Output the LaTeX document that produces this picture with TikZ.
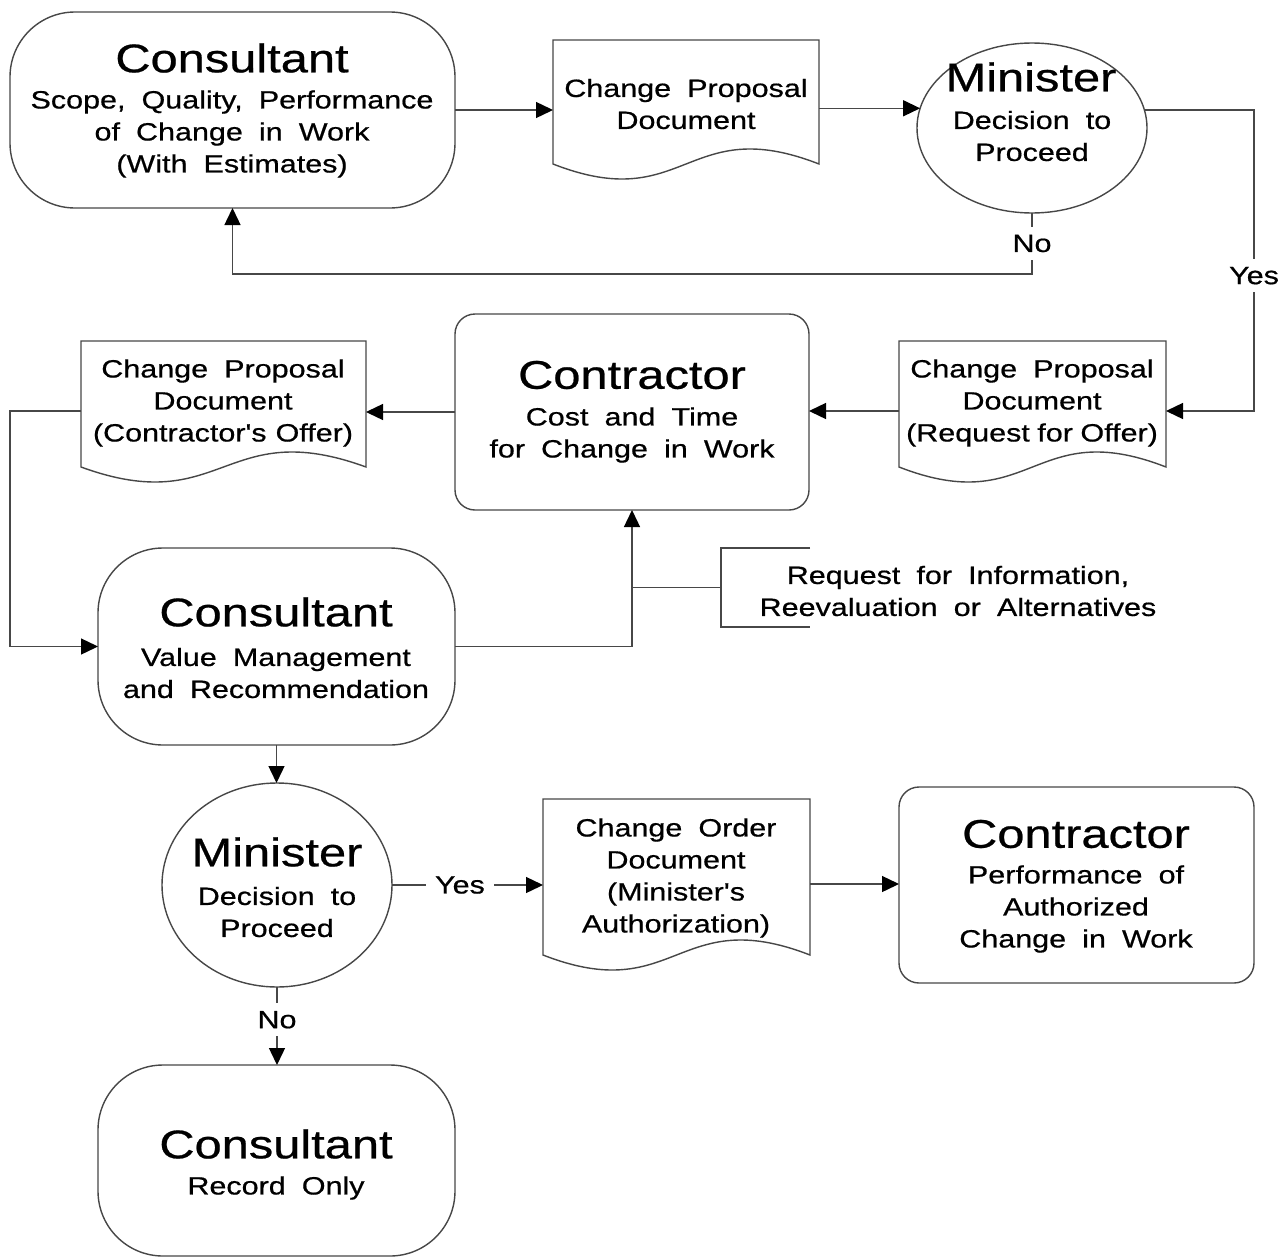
\documentclass[tikz,border=0pt]{standalone}
\usepackage{fontspec}
\setmainfont{Liberation Sans}[FakeStretch=1.22,WordSpace=1.9,FakeBold=0.6,Ligatures=TeXOff]
\usetikzlibrary{arrows.meta,shapes.geometric,calc}
\newcommand\fTitle{\fontsize{40}{44}\selectfont}
\newcommand\fBody{\fontsize{25}{32}\selectfont}
\newcommand\docpath[1]{%
  \draw[line] ([yshift=14pt]#1.south east) -- (#1.north east) -- (#1.north west)
    -- ([yshift=14pt]#1.south west)
    .. controls ([yshift=-38pt]#1.south) and ([yshift=66pt]#1.south) .. ([yshift=14pt]#1.south east) -- cycle;}
\begin{document}
\begin{tikzpicture}[x=1pt,y=-1pt,
  line/.style={draw=black!72, line width=1.4pt},
  arr/.style={line, -{Triangle[length=17pt,width=16pt,color=black]}},
  lbl/.style={fill=white, inner xsep=9pt, inner ysep=8pt, font=\fBody},
  box/.style={line, rectangle, inner sep=0pt, outer sep=0pt},
  docbox/.style={rectangle, inner sep=0pt, outer sep=0pt},
  oval/.style={line, ellipse, inner sep=0pt, outer sep=0pt},
  ttl/.style={font=\fTitle, inner sep=0pt},
  bdy/.style={font=\fBody, align=center, inner sep=0pt}]
\useasboundingbox[fill=white] (0,0) rectangle (1288,1258);

% ---- shapes
\node[box, rounded corners=65pt, minimum width=445pt, minimum height=196pt] (c1) at (232.5,110) {};
\node[docbox, minimum width=266pt, minimum height=138pt] (d1) at (686,109) {};
\docpath{d1}
\node[oval, minimum width=230pt, minimum height=170pt] (m1) at (1032,128) {};

\node[docbox, minimum width=267pt, minimum height=140pt] (rfo) at (1032.5,411) {};
\docpath{rfo}
\node[box, rounded corners=20pt, minimum width=354pt, minimum height=196pt] (k1) at (632,412) {};
\node[docbox, minimum width=285pt, minimum height=140pt] (of) at (223.5,411) {};
\docpath{of}

\node[box, rounded corners=65pt, minimum width=357pt, minimum height=197pt] (vm) at (276.5,646.5) {};
\node[docbox, minimum width=474pt, minimum height=79pt] (ann) at (958,587.5) {};
\draw[line] ([xshift=89pt]ann.north west) -- (ann.north west) -- (ann.south west) -- ([xshift=89pt]ann.south west);

\node[oval, minimum width=230pt, minimum height=204pt] (m2) at (277,885) {};
\node[docbox, minimum width=267pt, minimum height=170pt] (co) at (676.5,884) {};
\docpath{co}
\node[box, rounded corners=20pt, minimum width=355pt, minimum height=196pt] (k2) at (1076.5,885) {};
\node[box, rounded corners=65pt, minimum width=357pt, minimum height=191pt] (rec) at (276.5,1160.5) {};

% ---- texts
\node[ttl] (c1t) at (232,58) {Consultant};
\node[bdy] (c1b) at (232,134) {Scope, Quality, Performance\\of Change in Work\\(With Estimates)};
\node[bdy] (d1b) at (686,104) {Change Proposal\\Document};
\node[ttl] (m1t) at (1031,77) {Minister};
\node[bdy] (m1b) at (1032,136) {Decision to\\Proceed};
\node[bdy] (rfob) at (1032,403) {Change Proposal\\Document\\(Request\hspace{7.5pt}for\hspace{7.5pt}Offer)};
\node[ttl] (k1t) at (632,375) {Contractor};
\node[bdy] (k1b) at (632,435) {Cost and Time\\for Change in Work};
\node[bdy] (ofb) at (223,403) {Change Proposal\\Document\\(Contractor's\hspace{9pt}Offer)};
\node[ttl] (vmt) at (276,612) {Consultant};
\node[bdy] (vmb) at (276,673) {Value Management\\and Recommendation};
\node[bdy] (annb) at (958,591) {Request for Information,\\Reevaluation or Alternatives};
\node[ttl] (m2t) at (277,852) {Minister};
\node[bdy] (m2b) at (277,912) {Decision to\\Proceed};
\node[bdy] (cob) at (676,878) {Change Order\\Document\\(Minister's\\Authorization)};
\node[ttl] (k2t) at (1076,834) {Contractor};
\node[bdy] (k2b) at (1076,909) {Performance of\\Authorized\\Change in Work};
\node[ttl] (rect) at (276,1144) {Consultant};
\node[bdy] (recb) at (276,1188) {Record Only};

% ---- connectors
\draw[arr] (c1.east) -- (c1.east -| d1.west);
\draw[arr] (m1.170.4 -| d1.east) -- (m1.170.4);
\draw[arr] (m1.south) -- node[lbl]{No} ++(0,61) -| (c1.south);
\draw[arr] (m1.9.6) -| node[lbl,pos=0.775]{Yes} ($(rfo.east)+(88,0)$) -- (rfo.east);
\draw[arr] (rfo.west) -- (rfo.west -| k1.east);
\draw[arr] (k1.west) -- (k1.west -| of.east);
\draw[arr] (of.west) -- ++(-71,0) |- (vm.west);
\draw[arr] (vm.east) -| (k1.south);
\draw[line] (ann.west) -- (ann.west -| k1.south);
\draw[arr] (vm.south) -- (vm.south |- m2.north);
\draw[arr] (m2.east) -- node[lbl,pos=0.45]{Yes} (m2.east -| co.west);
\draw[arr] (co.east) -- (co.east -| k2.west);
\draw[arr] (m2.south) -- node[lbl,pos=0.42]{No} (m2.south |- rec.north);
\end{tikzpicture}
\end{document}
